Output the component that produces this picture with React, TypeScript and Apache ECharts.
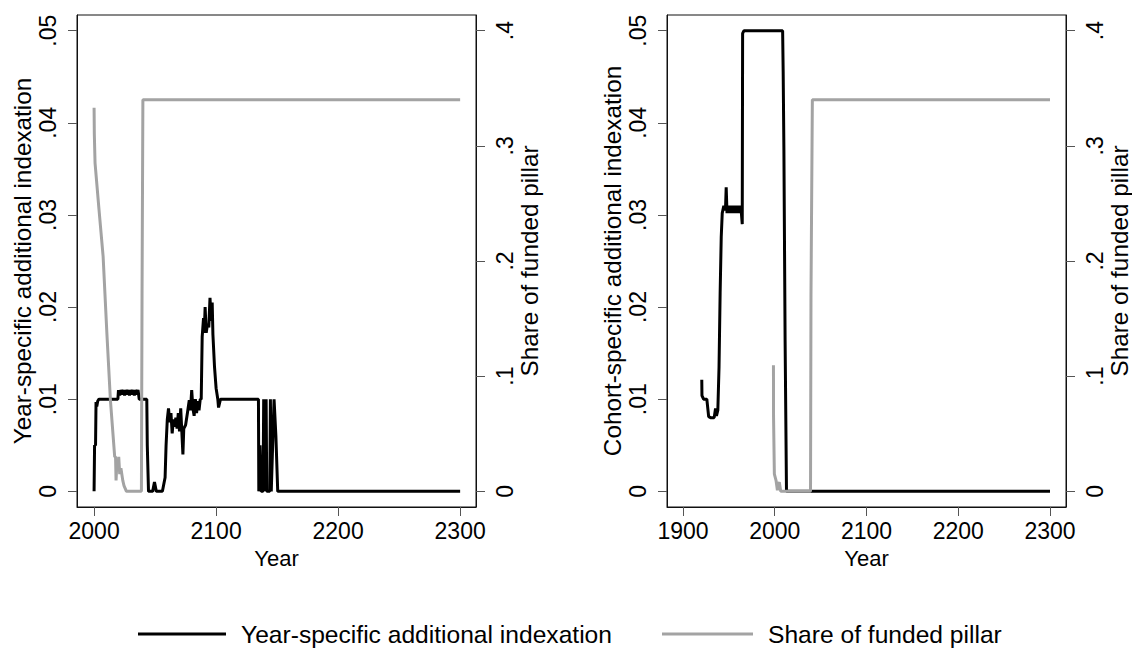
import React, { useEffect, useRef } from "react";
import * as echarts from "echarts";

// ---------- DATA ----------
// Left panel: year-specific additional indexation (left axis)
const yearIndexation: [number, number][] = [
  [2000, 0], [2000.4, 0.005], [2001.2, 0.005], [2001.6, 0.0097], [2002.2, 0.0092], [2003, 0.0098],
  [2004, 0.01], [2019.5, 0.01], [2020, 0.011], [2021, 0.0104], [2022, 0.011], [2023, 0.0105],
  [2024, 0.011], [2025, 0.0104], [2026, 0.011], [2027, 0.0105], [2028, 0.011], [2029, 0.0104],
  [2030, 0.011], [2031, 0.0105], [2032, 0.011], [2033, 0.0104], [2034, 0.011], [2035, 0.0105],
  [2036, 0.011], [2037, 0.01], [2043.2, 0.01], [2043.6, 0.005], [2044.6, 0], [2048, 0],
  [2049.5, 0.001], [2051, 0], [2056, 0], [2058.2, 0.0015], [2059, 0.005], [2060, 0.0078],
  [2061, 0.009], [2062, 0.0075], [2063, 0.0085], [2064, 0.0063], [2065, 0.0078], [2066, 0.007],
  [2067, 0.008], [2068, 0.0068], [2069, 0.0085], [2070, 0.0065], [2071, 0.009], [2072.8, 0.004],
  [2073.5, 0.0068], [2075, 0.0072], [2076.5, 0.0085], [2078, 0.0099], [2079, 0.0088], [2080, 0.011],
  [2081, 0.009], [2082, 0.0082], [2083, 0.01], [2084, 0.0085], [2085, 0.0098], [2086, 0.0088],
  [2087, 0.01], [2087.8, 0.01], [2088.6, 0.0168], [2089.7, 0.0188], [2090.3, 0.0172], [2091, 0.02],
  [2091.9, 0.0172], [2093, 0.0182], [2094, 0.0178], [2095, 0.021], [2096, 0.0185], [2096.8, 0.0205],
  [2097.4, 0.017], [2098.7, 0.0135], [2100, 0.0112], [2101.4, 0.01], [2102, 0.0091], [2103.6, 0.01],
  [2134.7, 0.01], [2135, 0], [2136, 0.005], [2137, 0], [2138.5, 0], [2139, 0.01], [2139.6, 0],
  [2141, 0.01], [2141.5, 0], [2144, 0], [2144.5, 0.01], [2145.2, 0], [2147.5, 0.01], [2149, 0.006],
  [2150.5, 0], [2300, 0],
];
// Left panel: share of funded pillar (right axis)
const shareFundedLeft: [number, number][] = [
  [2000, 0.333], [2000.2, 0.31], [2000.8, 0.285], [2004, 0.245], [2007.4, 0.204], [2010.5, 0.137],
  [2013.4, 0.079], [2016.9, 0.03], [2017.6, 0.03], [2018, 0.0095], [2018.8, 0.027], [2019.5, 0.018],
  [2020.2, 0.03], [2021, 0.015], [2022, 0.02], [2023.5, 0.0095], [2024.5, 0.005], [2026.5, 0],
  [2038.8, 0], [2039.3, 0.17], [2040, 0.34], [2300, 0.34],
];
// Right panel: cohort-specific additional indexation (left axis)
const cohortIndexation: [number, number][] = [
  [1920.5, 0.0121], [1920.7, 0.0104], [1922.5, 0.01], [1926, 0.01], [1928, 0.0081], [1930, 0.008],
  [1934, 0.008], [1935.5, 0.009], [1936.5, 0.0082], [1938, 0.0088], [1939.3, 0.0135], [1940.5, 0.0215],
  [1941.7, 0.0276], [1942.8, 0.0302], [1944.5, 0.031], [1946.3, 0.0305], [1947.1, 0.033], [1948, 0.0302],
  [1949, 0.031], [1950, 0.0302], [1951, 0.031], [1952, 0.0302], [1953, 0.031], [1954, 0.0302],
  [1955, 0.031], [1956, 0.0302], [1957, 0.031], [1958, 0.0302], [1959, 0.031], [1960, 0.0302],
  [1961, 0.031], [1962, 0.0302], [1963, 0.031], [1964.6, 0.029], [1965, 0.0497], [1966.5, 0.05],
  [2008.6, 0.05], [2009.2, 0.0455], [2010, 0.0369], [2011.3, 0.0164], [2012.8, 0], [2300, 0],
];
// Right panel: share of funded pillar (right axis)
const shareFundedRight: [number, number][] = [
  [1998.6, 0.1095], [1998.7, 0.065], [1999.6, 0.015], [2001.4, 0.0096], [2002.9, 0.001],
  [2004, 0.006], [2005, 0.008], [2006.5, 0], [2039, 0], [2039.5, 0.17], [2041, 0.34], [2300, 0.34],
];

const leftYTicks = [0, 0.01, 0.02, 0.03, 0.04, 0.05];
const rightYTicks = [0, 0.1, 0.2, 0.3, 0.4];
const xTicksLeft = [2000, 2100, 2200, 2300];
const xTicksRight = [1900, 2000, 2100, 2200, 2300];

const legendLabels = ["Year-specific additional indexation", "Share of funded pillar"];
const yNames = ["Year-specific additional indexation", "Cohort-specific additional indexation"];
const rightName = "Share of funded pillar";
const xName = "Year";

// ---------- STYLE ----------
const FONT = "'Liberation Sans', Arial, sans-serif";
const BLACK = "#000000";
const GRAY = "#a3a3a3";

const fmt = (v: number) => (Math.abs(v) < 1e-9 ? "0" : String(parseFloat(v.toFixed(3))).replace(/^0\./, "."));
const fmtYear = (v: number) => String(Math.round(v));

export default function App() {
  const ref = useRef<HTMLDivElement>(null);
  useEffect(() => {
    if (!ref.current) return;
    const chart = echarts.init(ref.current, undefined, { renderer: "svg" });

    const grids = [
      { left: 77, top: 15, width: 399, height: 492 },
      { left: 667, top: 15, width: 399, height: 492 },
    ];

    const xAxisBase = (gi: number, min: number, max: number, ticks: number[]) => ({
      type: "value",
      gridIndex: gi,
      min,
      max,
      axisLine: { show: true, onZero: false, lineStyle: { color: "#111", width: 1 } },
      axisTick: { show: true, length: 9, customValues: ticks, lineStyle: { color: "#555", width: 1 } },
      axisLabel: { customValues: ticks, formatter: fmtYear, fontSize: 23, color: "#000", fontFamily: FONT, margin: 12 },
      splitLine: { show: false },
      name: xName,
      nameLocation: "middle",
      nameGap: 40,
      nameTextStyle: { fontSize: 22, color: "#000", fontFamily: FONT },
    });

    const yLeft = (gi: number, name: string) => ({
      type: "value",
      gridIndex: gi,
      position: "left",
      min: -0.0017,
      max: 0.0517,
      axisLine: { show: true, onZero: false, lineStyle: { color: "#111", width: 1 } },
      axisTick: { show: true, length: 9, customValues: leftYTicks, lineStyle: { color: "#555", width: 1 } },
      axisLabel: {
        customValues: leftYTicks, rotate: 90, formatter: fmt, fontSize: 23, color: "#000",
        fontFamily: FONT, margin: 18,
      },
      splitLine: { show: false },
      name,
      nameLocation: "middle",
      nameRotate: 90,
      nameGap: 43,
      nameTextStyle: { fontSize: 24.3, color: "#000", fontFamily: FONT },
    });

    const yRight = (gi: number) => ({
      type: "value",
      gridIndex: gi,
      position: "right",
      min: -0.0136,
      max: 0.4136,
      axisLine: { show: true, onZero: false, lineStyle: { color: "#111", width: 1 } },
      axisTick: { show: true, length: 9, customValues: rightYTicks, lineStyle: { color: "#555", width: 1 } },
      axisLabel: {
        customValues: rightYTicks, rotate: 90, formatter: fmt, fontSize: 23, color: "#000",
        fontFamily: FONT, margin: 17,
      },
      splitLine: { show: false },
      name: rightName,
      nameLocation: "middle",
      nameRotate: 90,
      nameGap: 41,
      nameTextStyle: { fontSize: 24.3, color: "#000", fontFamily: FONT },
    });

    const line = (data: [number, number][], xi: number, yi: number, color: string, name: string) => ({
      type: "line",
      name,
      xAxisIndex: xi,
      yAxisIndex: yi,
      data,
      showSymbol: false,
      symbol: "none",
      lineStyle: { color, width: 3 },
      itemStyle: { color },
      z: color === GRAY ? 3 : 2,
    });

    const LEG_Y = 634;
    chart.setOption({
      animation: false,
      backgroundColor: "#ffffff",
      textStyle: { fontFamily: FONT },
      grid: grids.map((g) => ({ ...g, show: true, borderColor: "#111", borderWidth: 1, containLabel: false })),
      xAxis: [xAxisBase(0, 1986, 2313, xTicksLeft), xAxisBase(1, 1882.6, 2317.4, xTicksRight)],
      yAxis: [yLeft(0, yNames[0]), yRight(0), yLeft(1, yNames[1]), yRight(1)],
      series: [
        line(yearIndexation, 0, 0, BLACK, legendLabels[0]),
        line(shareFundedLeft, 0, 1, GRAY, legendLabels[1]),
        line(cohortIndexation, 1, 2, BLACK, "Cohort-specific additional indexation"),
        line(shareFundedRight, 1, 3, GRAY, legendLabels[1] + " "),
      ],
      graphic: [
        { type: "line", shape: { x1: 138, y1: LEG_Y, x2: 226, y2: LEG_Y }, style: { stroke: BLACK, lineWidth: 3 } },
        {
          type: "text", x: 241, y: LEG_Y,
          style: { text: legendLabels[0], fontSize: 24.6, fill: "#000", fontFamily: FONT, verticalAlign: "middle", align: "left" },
        },
        { type: "line", shape: { x1: 662, y1: LEG_Y, x2: 753, y2: LEG_Y }, style: { stroke: GRAY, lineWidth: 3 } },
        {
          type: "text", x: 768, y: LEG_Y,
          style: { text: legendLabels[1], fontSize: 24.6, fill: "#000", fontFamily: FONT, verticalAlign: "middle", align: "left" },
        },
      ],
    });
    return () => chart.dispose();
  }, []);
  return (
    <div
      ref={ref}
      style={{ position: "absolute", left: 0, top: 0, width: 1132, height: 650, background: "#fff" }}
    />
  );
}
